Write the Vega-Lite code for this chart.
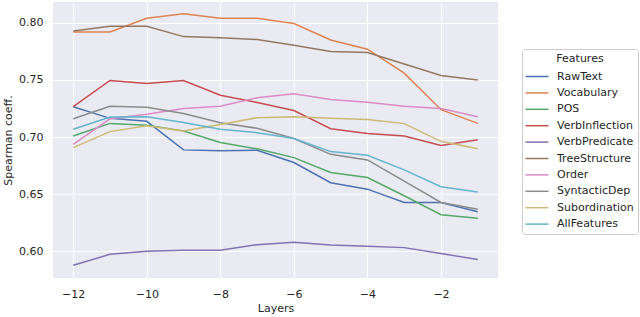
{
  "$schema": "https://vega.github.io/schema/vega-lite/v6.json",
  "autosize": {"type": "none"},
  "width": 445,
  "height": 276,
  "padding": {"left": 53, "top": 2, "right": 142, "bottom": 39},
  "background": "white",
  "datasets": {
    "d": [
      {"layer": -12, "feature": "RawText", "value": 0.7266},
      {"layer": -11, "feature": "RawText", "value": 0.7164},
      {"layer": -10, "feature": "RawText", "value": 0.7138},
      {"layer": -9, "feature": "RawText", "value": 0.6888},
      {"layer": -8, "feature": "RawText", "value": 0.688},
      {"layer": -7, "feature": "RawText", "value": 0.6885},
      {"layer": -6, "feature": "RawText", "value": 0.6777},
      {"layer": -5, "feature": "RawText", "value": 0.66},
      {"layer": -4, "feature": "RawText", "value": 0.6544},
      {"layer": -3, "feature": "RawText", "value": 0.6428},
      {"layer": -2, "feature": "RawText", "value": 0.6428},
      {"layer": -1, "feature": "RawText", "value": 0.6347},

      {"layer": -12, "feature": "Vocabulary", "value": 0.792},
      {"layer": -11, "feature": "Vocabulary", "value": 0.792},
      {"layer": -10, "feature": "Vocabulary", "value": 0.804},
      {"layer": -9, "feature": "Vocabulary", "value": 0.808},
      {"layer": -8, "feature": "Vocabulary", "value": 0.804},
      {"layer": -7, "feature": "Vocabulary", "value": 0.804},
      {"layer": -6, "feature": "Vocabulary", "value": 0.7994},
      {"layer": -5, "feature": "Vocabulary", "value": 0.785},
      {"layer": -4, "feature": "Vocabulary", "value": 0.777},
      {"layer": -3, "feature": "Vocabulary", "value": 0.756},
      {"layer": -2, "feature": "Vocabulary", "value": 0.724},
      {"layer": -1, "feature": "Vocabulary", "value": 0.712},

      {"layer": -12, "feature": "POS", "value": 0.701},
      {"layer": -11, "feature": "POS", "value": 0.712},
      {"layer": -10, "feature": "POS", "value": 0.7103},
      {"layer": -9, "feature": "POS", "value": 0.7053},
      {"layer": -8, "feature": "POS", "value": 0.6952},
      {"layer": -7, "feature": "POS", "value": 0.6897},
      {"layer": -6, "feature": "POS", "value": 0.682},
      {"layer": -5, "feature": "POS", "value": 0.669},
      {"layer": -4, "feature": "POS", "value": 0.6646},
      {"layer": -3, "feature": "POS", "value": 0.6486},
      {"layer": -2, "feature": "POS", "value": 0.632},
      {"layer": -1, "feature": "POS", "value": 0.629},

      {"layer": -12, "feature": "VerbInflection", "value": 0.7266},
      {"layer": -11, "feature": "VerbInflection", "value": 0.7496},
      {"layer": -10, "feature": "VerbInflection", "value": 0.747},
      {"layer": -9, "feature": "VerbInflection", "value": 0.7496},
      {"layer": -8, "feature": "VerbInflection", "value": 0.7367},
      {"layer": -7, "feature": "VerbInflection", "value": 0.7303},
      {"layer": -6, "feature": "VerbInflection", "value": 0.7233},
      {"layer": -5, "feature": "VerbInflection", "value": 0.7073},
      {"layer": -4, "feature": "VerbInflection", "value": 0.7032},
      {"layer": -3, "feature": "VerbInflection", "value": 0.701},
      {"layer": -2, "feature": "VerbInflection", "value": 0.6927},
      {"layer": -1, "feature": "VerbInflection", "value": 0.6977},

      {"layer": -12, "feature": "VerbPredicate", "value": 0.5877},
      {"layer": -11, "feature": "VerbPredicate", "value": 0.5973},
      {"layer": -10, "feature": "VerbPredicate", "value": 0.6},
      {"layer": -9, "feature": "VerbPredicate", "value": 0.601},
      {"layer": -8, "feature": "VerbPredicate", "value": 0.601},
      {"layer": -7, "feature": "VerbPredicate", "value": 0.6058},
      {"layer": -6, "feature": "VerbPredicate", "value": 0.6078},
      {"layer": -5, "feature": "VerbPredicate", "value": 0.6055},
      {"layer": -4, "feature": "VerbPredicate", "value": 0.6044},
      {"layer": -3, "feature": "VerbPredicate", "value": 0.6032},
      {"layer": -2, "feature": "VerbPredicate", "value": 0.598},
      {"layer": -1, "feature": "VerbPredicate", "value": 0.5927},

      {"layer": -12, "feature": "TreeStructure", "value": 0.793},
      {"layer": -11, "feature": "TreeStructure", "value": 0.797},
      {"layer": -10, "feature": "TreeStructure", "value": 0.797},
      {"layer": -9, "feature": "TreeStructure", "value": 0.788},
      {"layer": -8, "feature": "TreeStructure", "value": 0.787},
      {"layer": -7, "feature": "TreeStructure", "value": 0.7855},
      {"layer": -6, "feature": "TreeStructure", "value": 0.7805},
      {"layer": -5, "feature": "TreeStructure", "value": 0.775},
      {"layer": -4, "feature": "TreeStructure", "value": 0.774},
      {"layer": -3, "feature": "TreeStructure", "value": 0.764},
      {"layer": -2, "feature": "TreeStructure", "value": 0.754},
      {"layer": -1, "feature": "TreeStructure", "value": 0.75},

      {"layer": -12, "feature": "Order", "value": 0.6936},
      {"layer": -11, "feature": "Order", "value": 0.716},
      {"layer": -10, "feature": "Order", "value": 0.72},
      {"layer": -9, "feature": "Order", "value": 0.725},
      {"layer": -8, "feature": "Order", "value": 0.727},
      {"layer": -7, "feature": "Order", "value": 0.7345},
      {"layer": -6, "feature": "Order", "value": 0.738},
      {"layer": -5, "feature": "Order", "value": 0.733},
      {"layer": -4, "feature": "Order", "value": 0.7306},
      {"layer": -3, "feature": "Order", "value": 0.727},
      {"layer": -2, "feature": "Order", "value": 0.725},
      {"layer": -1, "feature": "Order", "value": 0.7178},

      {"layer": -12, "feature": "SyntacticDep", "value": 0.716},
      {"layer": -11, "feature": "SyntacticDep", "value": 0.727},
      {"layer": -10, "feature": "SyntacticDep", "value": 0.7262},
      {"layer": -9, "feature": "SyntacticDep", "value": 0.7207},
      {"layer": -8, "feature": "SyntacticDep", "value": 0.7126},
      {"layer": -7, "feature": "SyntacticDep", "value": 0.7077},
      {"layer": -6, "feature": "SyntacticDep", "value": 0.6988},
      {"layer": -5, "feature": "SyntacticDep", "value": 0.6849},
      {"layer": -4, "feature": "SyntacticDep", "value": 0.68},
      {"layer": -3, "feature": "SyntacticDep", "value": 0.6615},
      {"layer": -2, "feature": "SyntacticDep", "value": 0.6427},
      {"layer": -1, "feature": "SyntacticDep", "value": 0.6368},

      {"layer": -12, "feature": "Subordination", "value": 0.6908},
      {"layer": -11, "feature": "Subordination", "value": 0.7048},
      {"layer": -10, "feature": "Subordination", "value": 0.71},
      {"layer": -9, "feature": "Subordination", "value": 0.7053},
      {"layer": -8, "feature": "Subordination", "value": 0.711},
      {"layer": -7, "feature": "Subordination", "value": 0.717},
      {"layer": -6, "feature": "Subordination", "value": 0.7179},
      {"layer": -5, "feature": "Subordination", "value": 0.7164},
      {"layer": -4, "feature": "Subordination", "value": 0.7155},
      {"layer": -3, "feature": "Subordination", "value": 0.7118},
      {"layer": -2, "feature": "Subordination", "value": 0.6963},
      {"layer": -1, "feature": "Subordination", "value": 0.6897},

      {"layer": -12, "feature": "AllFeatures", "value": 0.7068},
      {"layer": -11, "feature": "AllFeatures", "value": 0.7176},
      {"layer": -10, "feature": "AllFeatures", "value": 0.7179},
      {"layer": -9, "feature": "AllFeatures", "value": 0.7127},
      {"layer": -8, "feature": "AllFeatures", "value": 0.7068},
      {"layer": -7, "feature": "AllFeatures", "value": 0.7039},
      {"layer": -6, "feature": "AllFeatures", "value": 0.6988},
      {"layer": -5, "feature": "AllFeatures", "value": 0.6873},
      {"layer": -4, "feature": "AllFeatures", "value": 0.684},
      {"layer": -3, "feature": "AllFeatures", "value": 0.6713},
      {"layer": -2, "feature": "AllFeatures", "value": 0.6565},
      {"layer": -1, "feature": "AllFeatures", "value": 0.652}
    ]
  },
  "data": {"name": "d"},
  "config": {
    "font": "DejaVu Sans",
    "view": {"fill": "#EAEAF2", "stroke": null},
    "axis": {
      "domain": false,
      "ticks": false,
      "grid": true,
      "gridColor": "white",
      "gridWidth": 1,
      "labelFont": "DejaVu Sans",
      "labelFontSize": 11,
      "labelColor": "#262626",
      "titleFont": "DejaVu Sans",
      "titleFontSize": 11,
      "titleFontWeight": "normal",
      "titleColor": "#262626"
    }
  },
  "mark": {"type": "line", "strokeWidth": 1.5, "clip": true},
  "encoding": {
    "x": {
      "field": "layer",
      "type": "quantitative",
      "scale": {"domain": [-12.55, -0.45], "nice": false, "zero": false},
      "axis": {
        "title": "Layers",
        "values": [-12, -10, -8, -6, -4, -2],
        "format": "d",
        "labelPadding": 10,
        "titlePadding": 3
      }
    },
    "y": {
      "field": "value",
      "type": "quantitative",
      "scale": {"domain": [0.5766, 0.8183], "nice": false, "zero": false},
      "axis": {
        "title": "Spearman coeff.",
        "values": [0.6, 0.65, 0.7, 0.75, 0.8],
        "format": ".2f",
        "labelPadding": 10,
        "titlePadding": 5
      }
    },
    "color": {
      "field": "feature",
      "type": "nominal",
      "scale": {
        "domain": ["RawText", "Vocabulary", "POS", "VerbInflection", "VerbPredicate", "TreeStructure", "Order", "SyntacticDep", "Subordination", "AllFeatures"],
        "range": ["#4C72B0", "#DD8452", "#55A868", "#C44E52", "#8172B3", "#937860", "#DA8BC3", "#8C8C8C", "#CCB974", "#64B5CD"]
      },
      "legend": {
        "title": "Features",
        "orient": "none",
        "legendX": 469,
        "legendY": 47,
        "titleFontSize": 11,
        "titleFontWeight": "normal",
        "titleColor": "#262626",
        "titleAnchor": "middle",
        "titleAlign": "center",
        "titlePadding": 1.5,
        "labelFontSize": 11,
        "labelColor": "#262626",
        "labelOffset": 9,
        "symbolType": "M-1.15,0H1.15",
        "symbolStrokeWidth": 1.5,
        "symbolSize": 400,
        "rowPadding": 0.4,
        "padding": 4,
        "fillColor": "white",
        "strokeColor": "#cccccc",
        "cornerRadius": 3
      }
    }
  }
}
